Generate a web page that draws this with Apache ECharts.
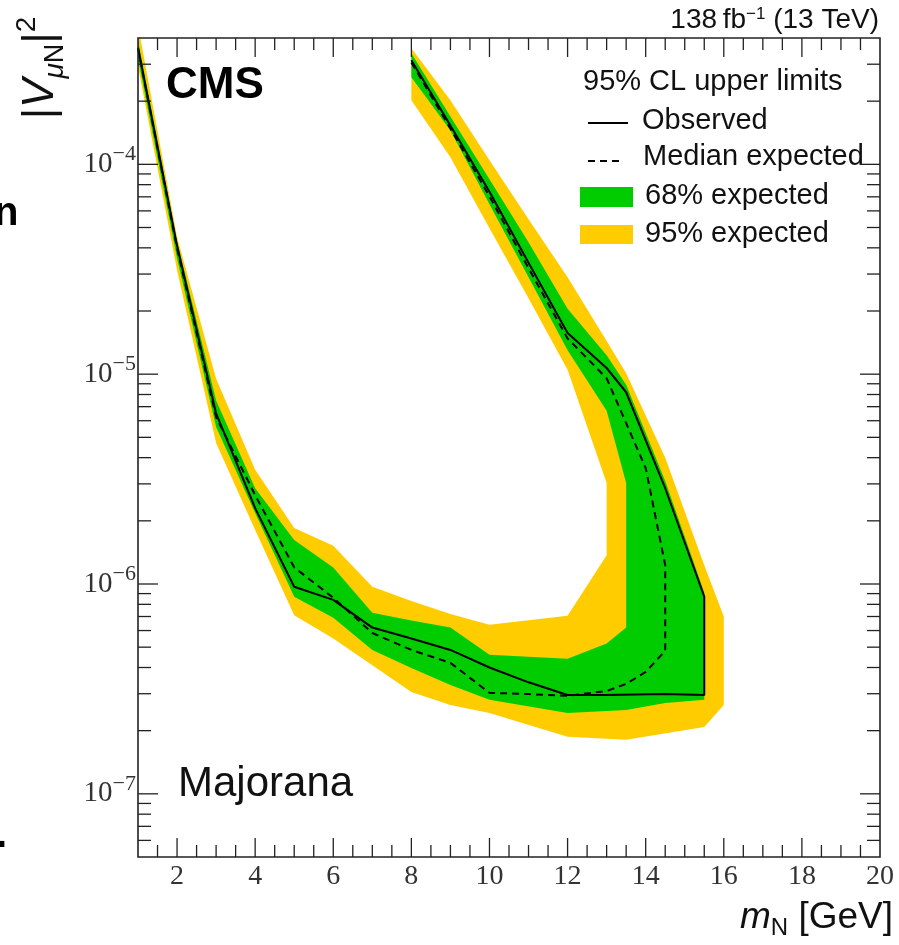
<!DOCTYPE html>
<html>
<head>
<meta charset="utf-8">
<script src="https://cdn.jsdelivr.net/npm/echarts@6/dist/echarts.min.js"></script>
<style>
html, body { margin: 0; padding: 0; background: #fff; }
#chart { width: 899px; height: 945px; }
</style>
</head>
<body>
<div id="chart"></div>
<script>
// [m_N in GeV, |V_muN|^2].
// each contour runs along the lower branch (m = 1 -> max) then back up the upper branch to m = 8
var observed = [
    [1, 3.6e-4], [2, 4.1e-5], [3, 6.5e-6], [4, 2.3e-6], [5, 9.7e-7], [6, 8.4e-7], [7, 6.2e-7],
    [8, 5.5e-7], [9, 4.85e-7], [10, 4.0e-7], [11, 3.4e-7], [12, 2.96e-7], [13, 2.96e-7],
    [14.5, 2.99e-7], [15.5, 2.96e-7],
    [15.5, 8.7e-7], [14.5, 2.86e-6], [13.5, 8.2e-6], [13, 1.07e-5], [12, 1.57e-5],
    [11, 3.4e-5], [10, 7.4e-5], [9, 1.53e-4], [8, 3.13e-4]
];
var expected = [
    [1, 3.57e-4], [2, 3.98e-5], [3, 6.24e-6], [4, 2.65e-6], [5, 1.2e-6], [6, 8.6e-7], [7, 5.84e-7],
    [8, 4.85e-7], [9, 4.21e-7], [10, 3.03e-7], [11, 2.99e-7], [12, 2.93e-7], [13, 3.09e-7],
    [13.5, 3.34e-7], [14, 3.81e-7], [14.5, 4.8e-7],
    [14.5, 1.23e-6], [14, 3.57e-6], [13.5, 5.84e-6], [13, 9.57e-6], [12, 1.48e-5],
    [11, 3.2e-5], [10, 7.04e-5], [9, 1.48e-4], [8, 3.06e-4]
];
// 68% band: inner edge (towards the excluded region) and outer edge
var band68Inner = [
    [1, 3.89e-4], [2, 4.3e-5], [3, 7.5e-6], [4, 2.86e-6], [5, 1.62e-6], [6, 1.2e-6], [7, 7.3e-7],
    [8, 6.7e-7], [9, 6.2e-7], [10, 4.6e-7], [12, 4.4e-7], [13, 5.2e-7], [13.5, 6.2e-7],
    [13.5, 3.03e-6], [13, 6.7e-6], [12, 1.3e-5], [11, 2.9e-5], [10, 6.45e-5], [9, 1.45e-4], [8, 2.6e-4]
];
var band68Outer = [
    [1, 3.2e-4], [2, 3.57e-5], [3, 5.6e-6], [4, 2.18e-6], [5, 8.7e-7], [6, 6.9e-7], [7, 4.85e-7],
    [8, 3.98e-7], [9, 3.3e-7], [10, 2.81e-7], [12, 2.43e-7], [13.5, 2.51e-7], [14.5, 2.71e-7],
    [15.5, 2.81e-7],
    [15.5, 9.1e-7], [14.5, 3.1e-6], [13.5, 8.9e-6], [13, 1.23e-5], [12, 2.05e-5], [11, 4.25e-5],
    [10, 8.5e-5], [9, 1.69e-4], [8, 3.38e-4]
];
// 95% band
var band95Inner = [
    [1, 4.6e-4], [2, 4.5e-5], [3, 9.5e-6], [4, 3.5e-6], [5, 1.85e-6], [6, 1.52e-6], [7, 9.7e-7],
    [8, 8.3e-7], [9, 7.2e-7], [10, 6.4e-7], [12, 7.05e-7], [13, 1.37e-6],
    [13, 3.03e-6], [12, 1.05e-5], [11, 2.3e-5], [10, 4.96e-5], [9, 1.08e-4], [8, 2.02e-4]
];
var band95Outer = [
    [1, 2.93e-4], [2, 3.13e-5], [3, 4.7e-6], [4, 1.81e-6], [5, 7.1e-7], [6, 5.5e-7], [7, 4.1e-7],
    [8, 3.06e-7], [9, 2.65e-7], [10, 2.43e-7], [12, 1.87e-7], [13.5, 1.81e-7], [15.5, 2.08e-7],
    [16, 2.65e-7],
    [16, 7.0e-7], [15.5, 1.23e-6], [14.5, 4.0e-6], [13.5, 1.01e-5], [13, 1.44e-5], [12, 2.9e-5],
    [11, 5.47e-5], [10, 1.045e-4], [9, 2.02e-4], [8, 3.57e-4]
];

var xTickLabels = [2, 4, 6, 8, 10, 12, 14, 16, 18, 20];
var yTickLabels = [1e-7, 1e-6, 1e-5, 1e-4];

var X_MIN = 1, X_MAX = 20, Y_MIN = 5e-8, Y_MAX = 4e-4;
var SANS = '"Liberation Sans", Arial, sans-serif';
var SERIF = '"Liberation Serif", "Times New Roman", serif';

function bandPolygon(outer, inner) {
    return outer.concat(inner.slice().reverse());
}

function bandSeries(points, color, z) {
    return {
        type: 'custom',
        z: z,
        clip: true,
        silent: true,
        data: [points[0]],
        renderItem: function (params, api) {
            var pts = points.map(function (p) { return api.coord(p); });
            return { type: 'polygon', shape: { points: pts }, style: { fill: color } };
        }
    };
}

// ROOT-like frame with ticks on all four sides
function frameSeries() {
    return {
        type: 'custom',
        z: 10,
        silent: true,
        data: [[X_MIN, Y_MIN]],
        renderItem: function (params, api) {
            var cs = params.coordSys;
            var left = cs.x, right = cs.x + cs.width, top = cs.y, bottom = cs.y + cs.height;
            var kids = [];
            function seg(x1, y1, x2, y2) {
                kids.push({ type: 'line', shape: { x1: x1, y1: y1, x2: x2, y2: y2 },
                    style: { stroke: '#222', lineWidth: 1.3 } });
            }
            for (var m = X_MIN + 0.5; m < X_MAX; m += 0.5) {
                var px = api.coord([m, Y_MIN])[0];
                var len = (m % 2 === 0) ? 19 : 12;
                seg(px, bottom, px, bottom - len);
                seg(px, top, px, top + len);
            }
            for (var e = -8; e <= -4; e++) {
                for (var k = 1; k <= 9; k++) {
                    var v = k * Math.pow(10, e);
                    if (v <= Y_MIN * 1.001 || v >= Y_MAX * 0.999) continue;
                    var py = api.coord([X_MIN, v])[1];
                    var l2 = (k === 1) ? 20 : 13;
                    seg(left, py, left + l2, py);
                    seg(right, py, right - l2, py);
                }
            }
            kids.push({ type: 'rect', shape: { x: left, y: top, width: cs.width, height: cs.height },
                style: { fill: 'none', stroke: '#222', lineWidth: 1.6 } });
            return { type: 'group', children: kids };
        }
    };
}

var chart = echarts.init(document.getElementById('chart'), null, { renderer: 'canvas' });

var option = {
    backgroundColor: '#fff',
    animation: false,
    grid: { left: 138, top: 38, width: 742, height: 819 },
    xAxis: {
        type: 'value',
        min: X_MIN,
        max: X_MAX,
        axisLine: { show: false },
        axisTick: { show: false },
        splitLine: { show: false },
        axisLabel: {
            customValues: xTickLabels,
            fontFamily: SERIF,
            fontSize: 28,
            color: '#333',
            margin: 6
        }
    },
    yAxis: {
        type: 'log',
        logBase: 10,
        min: Y_MIN,
        max: Y_MAX,
        axisLine: { show: false },
        axisTick: { show: false },
        splitLine: { show: false },
        axisLabel: {
            customValues: yTickLabels,
            margin: 2,
            formatter: function (v) {
                var e = Math.round(Math.log(v) / Math.LN10);
                return '{b|10}{s|\u2212' + Math.abs(e) + '}';
            },
            rich: {
                b: { fontFamily: SERIF, fontSize: 29, color: '#333', lineHeight: 42 },
                s: { fontFamily: SERIF, fontSize: 22, color: '#333', lineHeight: 22, verticalAlign: 'top' }
            }
        }
    },
    series: [
        bandSeries(bandPolygon(band95Outer, band95Inner), '#FFCC00', 1),
        bandSeries(bandPolygon(band68Outer, band68Inner), '#00CC00', 2),
        {
            name: 'Median expected',
            type: 'line',
            z: 3,
            data: expected,
            symbol: 'none',
            silent: true,
            lineStyle: { color: '#000', width: 2, type: [7, 5] }
        },
        {
            name: 'Observed',
            type: 'line',
            z: 4,
            data: observed,
            symbol: 'none',
            silent: true,
            lineStyle: { color: '#000', width: 2 }
        },
        frameSeries()
    ],
    graphic: [
        { type: 'text', x: 879, y: 20, style: { text: '138\u2009fb{sup|\u22121} (13 TeV)', align: 'right', verticalAlign: 'middle',
            font: '28px ' + SANS, fill: '#111',
            rich: { sup: { font: '17px ' + SANS, fill: '#111', verticalAlign: 'top', lineHeight: 17 } } } },
        { type: 'text', x: 41, y: 68, rotation: Math.PI / 2,
            style: { text: '|{v|V}{sub|\u03bc}{n|N}|{sup|2}', align: 'center', verticalAlign: 'middle',
                font: '44px ' + SANS, fill: '#111',
                rich: {
                    v: { font: 'italic 44px ' + SANS, fill: '#111', lineHeight: 56 },
                    sub: { font: 'italic 28px ' + SANS, fill: '#111', verticalAlign: 'bottom', lineHeight: 32 },
                    n: { font: '27px ' + SANS, fill: '#111', verticalAlign: 'bottom', lineHeight: 32 },
                    sup: { font: '28px ' + SANS, fill: '#111', verticalAlign: 'top', lineHeight: 28 }
                } } },
        { type: 'text', x: 893, y: 918, style: { text: '{m|m}{n|N} [GeV]', align: 'right', verticalAlign: 'middle',
            font: '37px ' + SANS, fill: '#111',
            rich: {
                m: { font: 'italic 37px ' + SANS, fill: '#111', lineHeight: 44 },
                n: { font: '24px ' + SANS, fill: '#111', verticalAlign: 'bottom', lineHeight: 30 }
            } } },
        { type: 'text', x: 166, y: 86, style: { text: 'CMS', verticalAlign: 'middle', font: 'bold 44px ' + SANS, fill: '#000' } },
        { type: 'text', x: 178, y: 784, style: { text: 'Majorana', verticalAlign: 'middle', font: '42px ' + SANS, fill: '#111' } },
        { type: 'text', x: 583, y: 82, style: { text: '95% CL upper limits', verticalAlign: 'middle', font: '29px ' + SANS, fill: '#111' } },
        { type: 'line', shape: { x1: 588, y1: 123, x2: 628, y2: 123 }, style: { stroke: '#000', lineWidth: 2 } },
        { type: 'text', x: 642, y: 121, style: { text: 'Observed', verticalAlign: 'middle', font: '29px ' + SANS, fill: '#111' } },
        { type: 'line', shape: { x1: 588, y1: 161, x2: 624, y2: 161 }, style: { stroke: '#000', lineWidth: 2, lineDash: [7, 5] } },
        { type: 'text', x: 643, y: 157, style: { text: 'Median expected', verticalAlign: 'middle', font: '29px ' + SANS, fill: '#111' } },
        { type: 'rect', shape: { x: 580, y: 187, width: 53, height: 20 }, style: { fill: '#00CC00' } },
        { type: 'text', x: 645, y: 196, style: { text: '68% expected', verticalAlign: 'middle', font: '29px ' + SANS, fill: '#111' } },
        { type: 'rect', shape: { x: 580, y: 225, width: 53, height: 19 }, style: { fill: '#FFCC00' } },
        { type: 'text', x: 645, y: 234, style: { text: '95% expected', verticalAlign: 'middle', font: '29px ' + SANS, fill: '#111' } },
        // slide remnants at the left edge of the crop
        { type: 'text', x: -6, y: 214, style: { text: 'n', verticalAlign: 'middle', font: 'bold 40px ' + SANS, fill: '#000' } },
        { type: 'text', x: -4, y: 836, style: { text: '.', verticalAlign: 'middle', font: 'bold 40px ' + SANS, fill: '#000' } }
    ]
};

chart.setOption(option);
</script>
</body>
</html>
